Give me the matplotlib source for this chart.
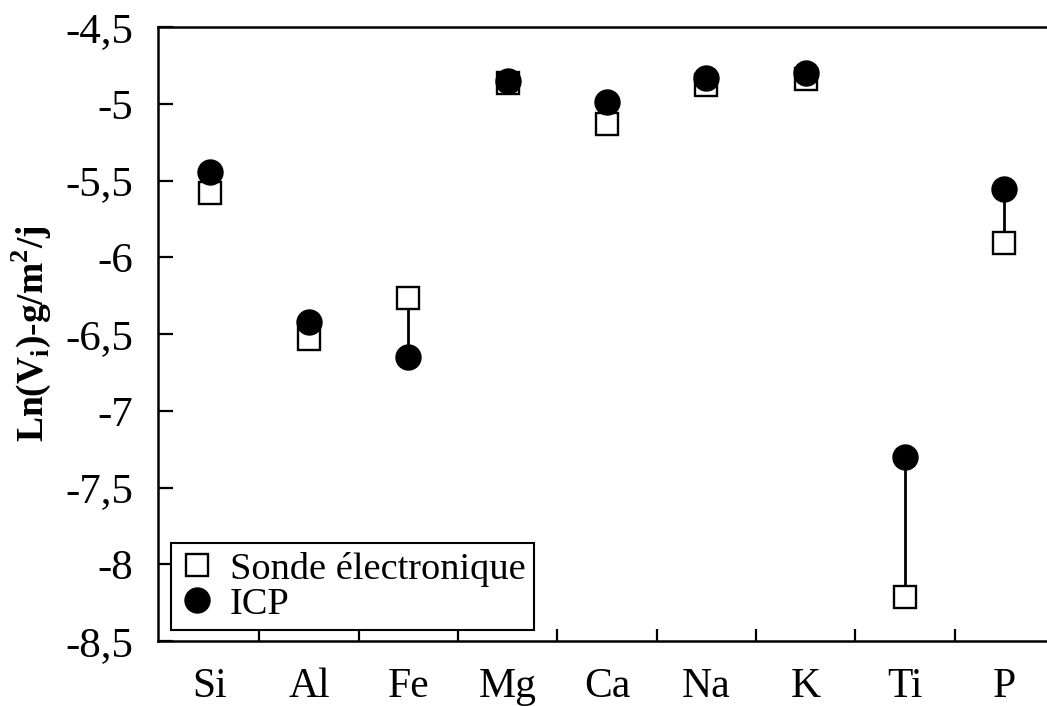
import matplotlib
matplotlib.use("Agg")
import matplotlib.pyplot as plt
from matplotlib.ticker import FixedLocator, FuncFormatter

plt.rcParams["font.family"] = ["Liberation Serif", "DejaVu Serif"]
plt.rcParams["mathtext.fontset"] = "custom"
plt.rcParams["mathtext.rm"] = "Liberation Serif"
plt.rcParams["mathtext.bf"] = "Liberation Serif:bold"

ELEMENTS = ["Si", "Al", "Fe", "Mg", "Ca", "Na", "K", "Ti", "P"]
SONDE = [-5.578, -6.529, -6.263, -4.866, -5.132, -4.876, -4.834, -8.212, -5.904]
ICP = [-5.441, -6.423, -6.651, -4.849, -4.985, -4.833, -4.800, -7.299, -5.554]
YTICKS = [-8.5, -8, -7.5, -7, -6.5, -6, -5.5, -5, -4.5]

fig = plt.figure(figsize=(10.47, 7.06), dpi=100)
ax = fig.add_axes([158 / 1047, 65 / 706, 896 / 1047, 613.7 / 706])

x = list(range(len(ELEMENTS)))
ax.vlines(x, SONDE, ICP, color="black", lw=2, zorder=2)
ax.plot(x, SONDE, ls="none", marker="s", ms=16.5, mfc="white", mec="black",
        mew=1.7, zorder=3, label="Sonde électronique")
ax.plot(x, ICP, ls="none", marker="o", ms=18, color="black", zorder=4, label="ICP")

ax.set_xlim(-0.52, 8.5)
ax.set_ylim(-8.5, -4.5)

# element names centred, tick marks on the category boundaries
ax.xaxis.set_major_locator(FixedLocator(x))
ax.set_xticklabels(ELEMENTS)
ax.xaxis.set_minor_locator(FixedLocator([i + 0.5 for i in range(len(ELEMENTS) - 1)]))
ax.tick_params(axis="x", which="major", length=0, pad=19, labelsize=30)
ax.tick_params(axis="x", which="minor", direction="in", length=9, width=1.6)

ax.yaxis.set_major_locator(FixedLocator(YTICKS))
ax.yaxis.set_major_formatter(FuncFormatter(lambda v, p: f"{v:g}".replace(".", ",")))
ax.tick_params(axis="y", direction="in", length=11, width=1.6, pad=18, labelsize=31)

for side in ["left", "bottom", "top"]:
    ax.spines[side].set_linewidth(1.8)
ax.spines["right"].set_visible(False)

ax.set_ylabel(r"Ln(V$_{\mathbf{i}}$)-g/m$^{\mathbf{2}}$/j", fontsize=27,
              fontweight="bold")
ax.yaxis.set_label_coords(-0.117, 0.5)

leg = ax.legend(loc="lower left", bbox_to_anchor=(171 / 1047, 76 / 706),
                bbox_transform=fig.transFigure, borderaxespad=0, fontsize=27.6,
                frameon=True, fancybox=False, edgecolor="black", framealpha=1,
                handlelength=0.9, handletextpad=0.42, borderpad=0.22,
                labelspacing=0.0, markerscale=1)
leg.get_frame().set_linewidth(1.5)

fig.savefig("out.png", dpi=100)
